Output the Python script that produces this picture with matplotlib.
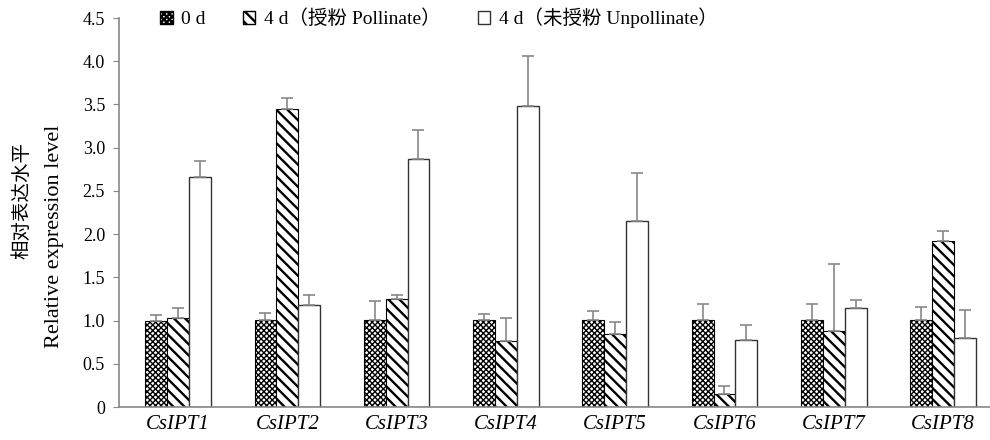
import numpy as np
import matplotlib.pyplot as plt
from matplotlib.patches import Patch

plt.rcParams['font.family'] = ['Liberation Serif', 'Noto Sans CJK SC']

genes = ["CsIPT1", "CsIPT2", "CsIPT3", "CsIPT4", "CsIPT5", "CsIPT6", "CsIPT7", "CsIPT8"]
day0 = [1.00, 1.01, 1.01, 1.01, 1.01, 1.01, 1.01, 1.01]
day0_err = [0.06, 0.08, 0.22, 0.07, 0.10, 0.18, 0.18, 0.15]
poll = [1.03, 3.45, 1.25, 0.76, 0.85, 0.15, 0.88, 1.92]
poll_err = [0.12, 0.12, 0.05, 0.27, 0.13, 0.09, 0.77, 0.12]
unpoll = [2.66, 1.18, 2.87, 3.48, 2.15, 0.77, 1.15, 0.80]
unpoll_err = [0.18, 0.12, 0.33, 0.58, 0.56, 0.18, 0.09, 0.32]
labels = ["0 d", "4 d（授粉 Pollinate）", "4 d（未授粉 Unpollinate）"]

fig = plt.figure(figsize=(9.9, 4.4), dpi=100)
ax = fig.add_axes([119/990, 1 - 407/440, 1 - 119/990, (407 - 18)/440])

x = np.arange(len(genes))
w = 0.2
ecol = "#888888"
checker = "xxxxxx"
stripes = "\\\\\\"

# hatch linewidth is picked up when each patch is made
plt.rcParams['hatch.linewidth'] = 1.0
ax.bar(x - w, day0, w, color="white", edgecolor="black", hatch=checker, linewidth=0.8)
h0 = Patch(facecolor="white", edgecolor="black", hatch=checker)
plt.rcParams['hatch.linewidth'] = 1.7
ax.bar(x, poll, w, color="white", edgecolor="black", hatch=stripes, linewidth=0.8)
h1 = Patch(facecolor="white", edgecolor="black", hatch=stripes)
ax.bar(x + w, unpoll, w, color="white", edgecolor="#333333", linewidth=1.0)
h2 = Patch(facecolor="white", edgecolor="#333333")
for xs, ys, es in [(x - w, day0, day0_err), (x, poll, poll_err), (x + w, unpoll, unpoll_err)]:
    ax.errorbar(xs, ys, yerr=[np.zeros(len(es)), es], fmt="none", ecolor=ecol,
                elinewidth=1.2, capsize=4, capthick=1.2)

ax.set_xlim(-0.54, 7.43)
ax.set_ylim(0, 4.5)
ax.set_yticks(np.arange(0, 4.51, 0.5))
ax.set_yticklabels(["0"] + ["%.1f" % v for v in np.arange(0.5, 4.51, 0.5)], fontsize=13)
ax.set_xticks(x)
ax.set_xticklabels(genes, fontsize=15, style="italic")
ax.tick_params(axis="x", length=0, pad=6)
ax.tick_params(axis="y", length=4, color=ecol, direction="out", pad=6)
for s in ["top", "right"]:
    ax.spines[s].set_visible(False)
for s in ["left", "bottom"]:
    ax.spines[s].set_color(ecol)
    ax.spines[s].set_linewidth(1.2)

# two-line y label, placed by hand
fig.text(22/990, 1 - 200/440, "相对表达水平", rotation=90, fontsize=14, ha="center", va="center")
fig.text(55/990, 1 - 236/440, "Relative expression level", rotation=90, fontsize=16,
         ha="center", va="center")

ax.legend([h0, h1, h2], labels, ncol=3, loc="center left", bbox_to_anchor=(0.047, 1.0),
          frameon=False, fontsize=14, handlelength=0.65, handleheight=0.65,
          handletextpad=0.45, columnspacing=1.9, borderpad=0, borderaxespad=0)

fig.savefig("out.png", dpi=100)
